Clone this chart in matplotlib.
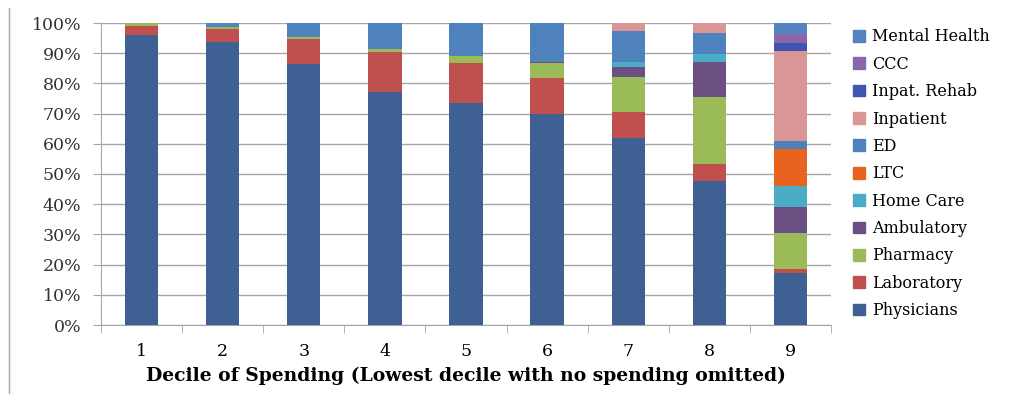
import matplotlib.pyplot as plt
from matplotlib.lines import Line2D
from matplotlib.patches import Patch

deciles = ['1', '2', '3', '4', '5', '6', '7', '8', '9']

# share of spending (%) by category, bottom to top of each bar
physicians = [96.0, 93.6, 86.4, 77.3, 73.4, 70.0, 61.8, 47.7, 17.3]
laboratory = [3.0, 4.3, 8.2, 13.0, 13.2, 11.7, 8.6, 5.6, 1.4]
pharmacy = [1.0, 0.7, 0.7, 1.1, 2.6, 4.9, 11.7, 22.3, 11.7]
ambulatory = [0, 0, 0, 0, 0, 0.4, 3.3, 11.4, 8.6]
home_care = [0, 0, 0, 0, 0, 0, 1.6, 2.8, 7.1]
ltc = [0, 0, 0, 0, 0, 0, 0, 0, 12.1]
ed = [0, 0, 4.7, 8.6, 10.8, 12.9, 10.2, 6.8, 2.8]
inpatient = [0, 0, 0, 0, 0, 0.1, 2.8, 3.4, 29.7]
inpat_rehab = [0, 0, 0, 0, 0, 0, 0, 0, 2.6]
ccc = [0, 0, 0, 0, 0, 0, 0, 0, 2.9]
mental_health = [0, 1.4, 0, 0, 0, 0, 0, 0, 3.8]

series = [
    ('Physicians', physicians, '#3F6093'),
    ('Laboratory', laboratory, '#C0504D'),
    ('Pharmacy', pharmacy, '#9BBB59'),
    ('Ambulatory', ambulatory, '#6C5083'),
    ('Home Care', home_care, '#4BACC6'),
    ('LTC', ltc, '#E8631E'),
    ('ED', ed, '#4F81BD'),
    ('Inpatient', inpatient, '#D99694'),
    ('Inpat. Rehab', inpat_rehab, '#4055B2'),
    ('CCC', ccc, '#8A66AA'),
    ('Mental Health', mental_health, '#5483C2'),
]

plt.rcParams['font.family'] = ['DejaVu Serif']

W, H = 1018, 394
fig = plt.figure(figsize=(W / 100, H / 100), dpi=100)
ax = fig.add_axes([101 / W, (H - 325) / H, (831 - 101) / W, (325 - 23) / H])

x = list(range(len(deciles)))
bottom = [0.0] * len(deciles)
for name, vals, color in series:
    ax.bar(x, vals, width=0.41, bottom=bottom, color=color, zorder=3)
    bottom = [b + v for b, v in zip(bottom, vals)]

ax.set_xlim(-0.5, len(deciles) - 0.5)
ax.set_ylim(0, 100)
ax.set_yticks(range(0, 101, 10))
ax.set_yticklabels([f'{v}%' for v in range(0, 101, 10)], fontsize=12.5, color='#333333')
ax.yaxis.grid(True, color='#A6A6A6', linewidth=1, zorder=0)
ax.tick_params(axis='y', length=6, color='#A6A6A6', pad=8)

ax.set_xticks(x)
ax.set_xticklabels(deciles, fontsize=12.5)
ax.set_xticks([i - 0.5 for i in range(len(deciles) + 1)], minor=True)
ax.tick_params(axis='x', which='major', length=0, pad=13)
ax.tick_params(axis='x', which='minor', length=6, color='#A6A6A6')
ax.set_xlabel('Decile of Spending (Lowest decile with no spending omitted)',
              fontsize=13.5, fontweight='bold', labelpad=5)

for s in ['top', 'right']:
    ax.spines[s].set_visible(False)
for s in ['left', 'bottom']:
    ax.spines[s].set_color('#A6A6A6')

handles = [Patch(color=c, label=n) for n, v, c in series][::-1]
fig.legend(handles=handles, loc='upper left', bbox_to_anchor=(847 / W, 1 - 22 / H),
           frameon=False, fontsize=11.5, handlelength=0.75, handleheight=0.75,
           handletextpad=0.4, labelspacing=0.65, borderaxespad=0)

fig.add_artist(Line2D([9 / W, 9 / W], [0, 1 - 8 / H], color='#A6A6A6', linewidth=1))

fig.savefig('out.png', dpi=100)
